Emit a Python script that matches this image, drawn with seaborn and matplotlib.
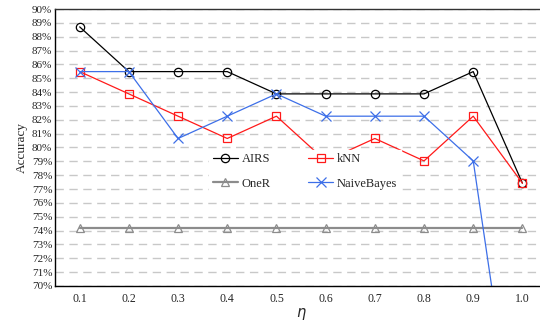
import numpy as np
import pandas as pd
import matplotlib
matplotlib.use("Agg")
import matplotlib.pyplot as plt
import seaborn as sns

# data
eta = [0.1, 0.2, 0.3, 0.4, 0.5, 0.6, 0.7, 0.8, 0.9, 1.0]
airs = [88.71, 85.48, 85.48, 85.48, 83.87, 83.87, 83.87, 83.87, 85.48, 77.42]
knn = [85.48, 83.87, 82.26, 80.65, 82.26, 79.03, 80.65, 79.03, 82.26, 77.42]
oner = [74.19, 74.19, 74.19, 74.19, 74.19, 74.19, 74.19, 74.19, 74.19, 74.19]
naive = [85.48, 85.48, 80.65, 82.26, 83.87, 82.26, 82.26, 82.26, 79.03, 54.84]

series = ["AIRS", "OneR", "kNN", "NaiveBayes"]
df = pd.concat([
    pd.DataFrame({"eta": eta, "acc": airs, "method": "AIRS"}),
    pd.DataFrame({"eta": eta, "acc": oner, "method": "OneR"}),
    pd.DataFrame({"eta": eta, "acc": knn, "method": "kNN"}),
    pd.DataFrame({"eta": eta, "acc": naive, "method": "NaiveBayes"}),
])

sns.set_style("white")
plt.rcParams['font.family'] = ['Liberation Serif', 'DejaVu Serif']

fig = plt.figure(figsize=(5.4, 3.22), dpi=100)
ax = fig.add_axes([0.102, 0.112, 0.911, 0.86])

colors = {"AIRS": "black", "OneR": "#8c8c8c", "kNN": "#ff1a1a", "NaiveBayes": "#3d6fe8"}
markers = {"AIRS": "o", "OneR": "^", "kNN": "s", "NaiveBayes": "x"}

for name in series:
    sub = df[df["method"] == name]
    lw = 1.6 if name == "OneR" else 0.9
    sns.lineplot(data=sub, x="eta", y="acc", ax=ax, color=colors[name],
                 marker=markers[name], markersize=6 if name != "NaiveBayes" else 7,
                 markerfacecolor="none", markeredgecolor=colors[name],
                 markeredgewidth=0.9, linewidth=lw, label=name)

ax.set_xlim(0.05, 1.05)
ax.set_ylim(70, 90)
ax.set_yticks(np.arange(70, 91, 1))
ax.set_yticklabels([f"{v}%" for v in range(70, 91)], fontsize=8)
ax.set_xticks(eta)
ax.set_xticklabels([f"{v:.1f}" for v in eta], fontsize=8.5)
ax.set_xticks(np.arange(0.15, 1.0, 0.1), minor=True)
ax.tick_params(axis="x", which="major", length=0, pad=5)
ax.tick_params(axis="x", which="minor", direction="in", length=4, width=0.8, color="black")
ax.tick_params(axis="y", length=0, pad=2)

ax.grid(axis="y", linestyle=(0, (6, 4)), color="#c8c8c8", linewidth=1.0)
ax.set_axisbelow(True)
for s in ["left", "bottom", "top"]:
    ax.spines[s].set_color("black")
    ax.spines[s].set_linewidth(1.0)
ax.spines["top"].set_color("#333333")
ax.spines["right"].set_visible(False)

ax.set_xlabel(r"$\eta$", fontsize=10.5, labelpad=1)
ax.set_ylabel("Accuracy", fontsize=9.5, labelpad=3)

leg = ax.legend(ncol=2, loc="upper left", bbox_to_anchor=(0.3, 0.515),
                frameon=True, fontsize=9, handlelength=2.0, columnspacing=3.0,
                labelspacing=1.0, handletextpad=0.3, borderpad=0.3)
leg.get_frame().set_edgecolor("white")
leg.get_frame().set_facecolor("white")
leg.get_frame().set_alpha(1)
leg.get_frame().set_boxstyle("square", pad=0.0)

fig.savefig("out.png", dpi=100)
